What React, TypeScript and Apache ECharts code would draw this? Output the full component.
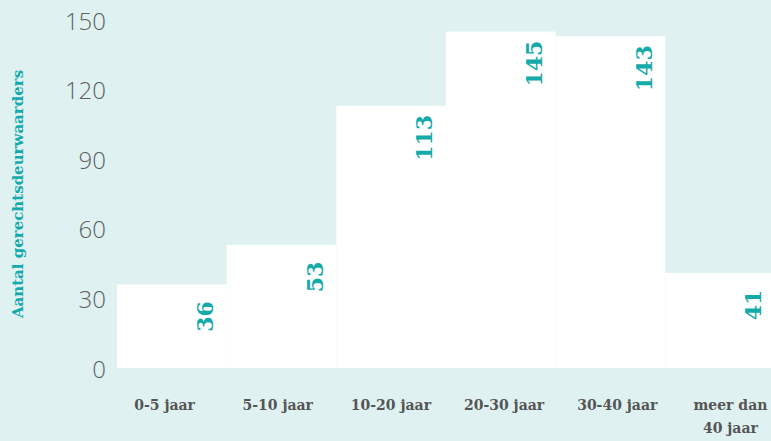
import React, { useEffect, useRef } from "react";
import * as echarts from "echarts";

const categories = ["0-5 jaar", "5-10 jaar", "10-20 jaar", "20-30 jaar", "30-40 jaar", "meer dan\n40 jaar"];
const counts = [36, 53, 113, 145, 143, 41];
const yTicks = { min: 0, max: 150, interval: 30 };
const yAxisTitle = "Aantal gerechtsdeurwaarders";

const TEAL = "#14aaaa";
const BG = "#dff1f1";

export default function App() {
  const ref = useRef<HTMLDivElement>(null);
  useEffect(() => {
    document.body.style.margin = "0";
    const chart = echarts.init(ref.current!, null, { renderer: "svg" });
    chart.setOption({
      animation: false,
      backgroundColor: BG,
      grid: [
        { left: 117, right: 12, top: 20, bottom: 73, containLabel: false },
        { left: 108, right: 0, top: 20, bottom: 73, containLabel: false },
      ],
      xAxis: [
        {
          type: "category",
          data: categories,
          gridIndex: 0,
          axisLine: { show: false },
          axisTick: { show: false },
          axisLabel: { show: false },
        },
        {
          type: "category",
          data: categories,
          gridIndex: 1,
          axisLine: { show: false },
          axisTick: { show: false },
          axisLabel: {
            interval: 0,
            margin: 25,
            fontFamily: "DejaVu Serif",
            fontWeight: "bold",
            fontSize: 14,
            lineHeight: 23,
            color: "#555555",
            verticalAlign: "top",
          },
        },
      ],
      yAxis: [
        {
          type: "value",
          gridIndex: 0,
          min: yTicks.min,
          max: yTicks.max,
          interval: yTicks.interval,
          splitLine: { show: false },
          axisLine: { show: false },
          axisTick: { show: false },
          axisLabel: {
            margin: 11,
            fontFamily: "Open Sans",
            fontWeight: 300,
            fontSize: 24,
            color: "#5f5f5f",
          },
          name: yAxisTitle,
          nameLocation: "middle",
          nameGap: 92,
          nameTextStyle: {
            fontFamily: "DejaVu Serif",
            fontWeight: "bold",
            fontSize: 15,
            color: TEAL,
          },
        },
        {
          type: "value",
          gridIndex: 1,
          min: yTicks.min,
          max: yTicks.max,
          show: false,
        },
      ],
      series: [
        {
          type: "bar",
          xAxisIndex: 0,
          yAxisIndex: 0,
          data: counts,
          barCategoryGap: 0,
          itemStyle: { color: "#ffffff", borderColor: "#ffffff", borderWidth: 1.5 },
          label: {
            show: true,
            position: [88, 32],
            rotate: 90,
            align: "center",
            verticalAlign: "middle",
            fontFamily: "DejaVu Serif",
            fontWeight: "bold",
            fontSize: 22,
            color: TEAL,
          },
        },
      ],
    });
    return () => chart.dispose();
  }, []);
  return (
    <div style={{ width: 771, height: 441, overflow: "hidden", background: BG }}>
      <div ref={ref} style={{ width: 787, height: 441 }} />
    </div>
  );
}
